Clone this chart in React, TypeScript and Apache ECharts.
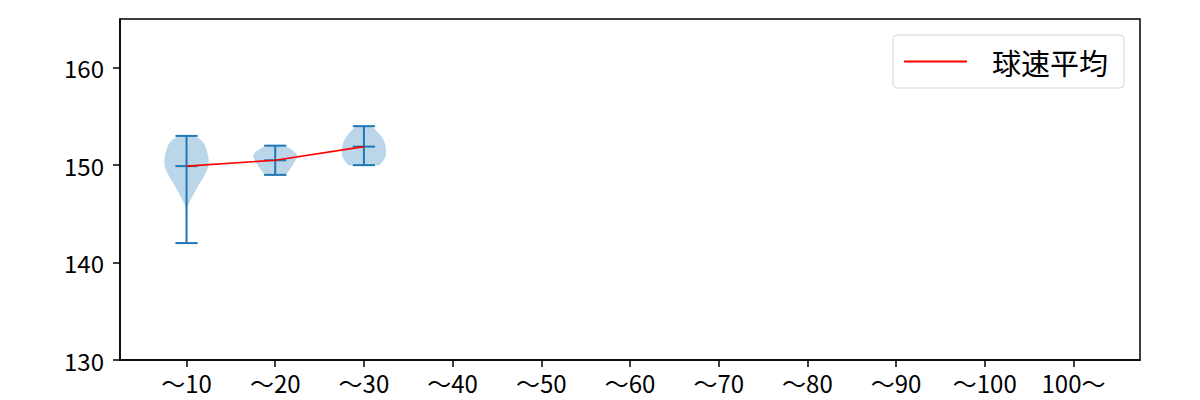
import React, { useEffect, useRef } from "react";
import * as echarts from "echarts";

const categories = ["～10", "～20", "～30", "～40", "～50", "～60", "～70", "～80", "～90", "～100", "100～"];
const categoryPositions = [1, 2, 3, 4, 5, 6, 7, 8, 9, 10, 11];
const yTicks = [130, 140, 150, 160];

const violinPositions = [1, 2, 3];
const speedMin = [142, 149, 150];
const speedMax = [153, 152, 154];
const speedMean = [149.9, 150.5, 151.9];
const meanLineName = "球速平均";

// relative density (0..1) at speed levels
const density10: number[][] = [
  [142, 0], [144, 0.005], [145, 0.01], [145.5, 0.03], [146, 0.09], [146.5, 0.2], [147, 0.32],
  [147.5, 0.44], [148, 0.55], [148.5, 0.7], [149, 0.82], [149.5, 0.93], [150, 0.99], [150.5, 1.0],
  [151, 0.97], [151.5, 0.92], [152, 0.84], [152.25, 0.78], [152.5, 0.68], [152.75, 0.55], [153, 0.3],
];
const density20: number[][] = [
  [149, 0.48], [149.25, 0.56], [149.5, 0.64], [149.75, 0.72], [150, 0.79], [150.25, 0.85],
  [150.5, 0.92], [150.75, 0.97], [151, 1.0], [151.25, 0.93], [151.5, 0.8], [151.75, 0.62], [152, 0.42],
];
const density30: number[][] = [
  [150, 0.72], [150.25, 0.8], [150.5, 0.88], [150.75, 0.95], [151, 0.98], [151.25, 1.0], [151.5, 1.0],
  [151.75, 0.99], [152, 0.97], [152.25, 0.94], [152.5, 0.9], [152.75, 0.84], [153, 0.77],
  [153.25, 0.68], [153.5, 0.58], [153.75, 0.47], [154, 0.38],
];
const densities = [density10, density20, density30];

const FONT = "'Noto Sans CJK JP', 'Noto Sans', sans-serif";
const BLUE = "#1f77b4";

export default function App() {
  const ref = useRef<HTMLDivElement>(null);
  useEffect(() => {
    if (!ref.current) return;
    const chart = echarts.init(ref.current, null, { renderer: "svg" });
    const HALF = 0.25;
    const CAP = 0.125;
    const option: any = {
      animation: false,
      backgroundColor: "#fff",
      grid: {
        left: 120, right: 60, top: 19, bottom: 40,
        show: true, borderColor: "#000", borderWidth: 1.5, backgroundColor: "transparent",
      },
      legend: {
        left: 893, top: 35,
        padding: [12, 16, 12, 11],
        backgroundColor: "#fff",
        borderColor: "#d6d6d6", borderWidth: 1, borderRadius: 4,
        itemWidth: 63, itemHeight: 2,
        data: [{ name: meanLineName, icon: "rect" }],
        textStyle: { fontSize: 29, fontFamily: FONT, color: "#000", padding: [0, 0, 0, 20] },
      },
      xAxis: {
        type: "value", min: 0.25, max: 11.75,
        splitLine: { show: false },
        axisLine: { show: true, lineStyle: { color: "#000", width: 1.5 } },
        axisTick: { show: true, length: 7, lineStyle: { color: "#000", width: 1.5 }, customValues: categoryPositions },
        axisLabel: {
          customValues: categoryPositions,
          formatter: (v: number) => categories[Math.round(v) - 1] ?? "",
          fontSize: 24, fontFamily: FONT, color: "#000", margin: 10,
        },
      },
      yAxis: {
        type: "value", min: 130, max: 165, interval: 10,
        splitLine: { show: false },
        axisLine: { show: true, lineStyle: { color: "#000", width: 1.5 } },
        axisTick: { show: true, length: 7, lineStyle: { color: "#000", width: 1.5 }, customValues: yTicks },
        axisLabel: { customValues: yTicks, fontSize: 24, fontFamily: FONT, color: "#000", margin: 16 },
      },
      series: [
        {
          type: "custom",
          name: "violin",
          z: 2,
          data: violinPositions.map((p, i) => [p, speedMin[i], speedMax[i], speedMean[i]]),
          encode: { x: 0, y: [1, 2, 3] },
          renderItem: (params: any, api: any) => {
            const i = params.dataIndex;
            const x = api.value(0);
            const mn = api.value(1);
            const mx = api.value(2);
            const me = api.value(3);
            const prof = densities[i];
            const right = prof.map(([v, w]) => api.coord([x + w * HALF, v]));
            const left = prof.slice().reverse().map(([v, w]) => api.coord([x - w * HALF, v]));
            const pts = right.concat(left);
            const lineStyle = { stroke: BLUE, lineWidth: 2 };
            const hline = (v: number) => {
              const a = api.coord([x - CAP, v]);
              const b = api.coord([x + CAP, v]);
              return { type: "line", shape: { x1: a[0], y1: a[1], x2: b[0], y2: b[1] }, style: lineStyle };
            };
            const t = api.coord([x, mx]);
            const b = api.coord([x, mn]);
            return {
              type: "group",
              children: [
                { type: "polygon", shape: { points: pts }, style: { fill: "rgba(31,119,180,0.3)" } },
                { type: "line", shape: { x1: t[0], y1: t[1], x2: b[0], y2: b[1] }, style: lineStyle },
                hline(mn), hline(mx), hline(me),
              ],
            };
          },
        },
        {
          type: "line",
          name: meanLineName,
          z: 5,
          data: violinPositions.map((p, i) => [p, speedMean[i]]),
          symbol: "none",
          itemStyle: { color: "#ff0000" },
          lineStyle: { color: "#ff0000", width: 1.6 },
        },
      ],
    };
    chart.setOption(option);
    return () => chart.dispose();
  }, []);
  return <div ref={ref} style={{ position: "absolute", left: 0, top: 0, width: 1200, height: 400 }} />;
}
